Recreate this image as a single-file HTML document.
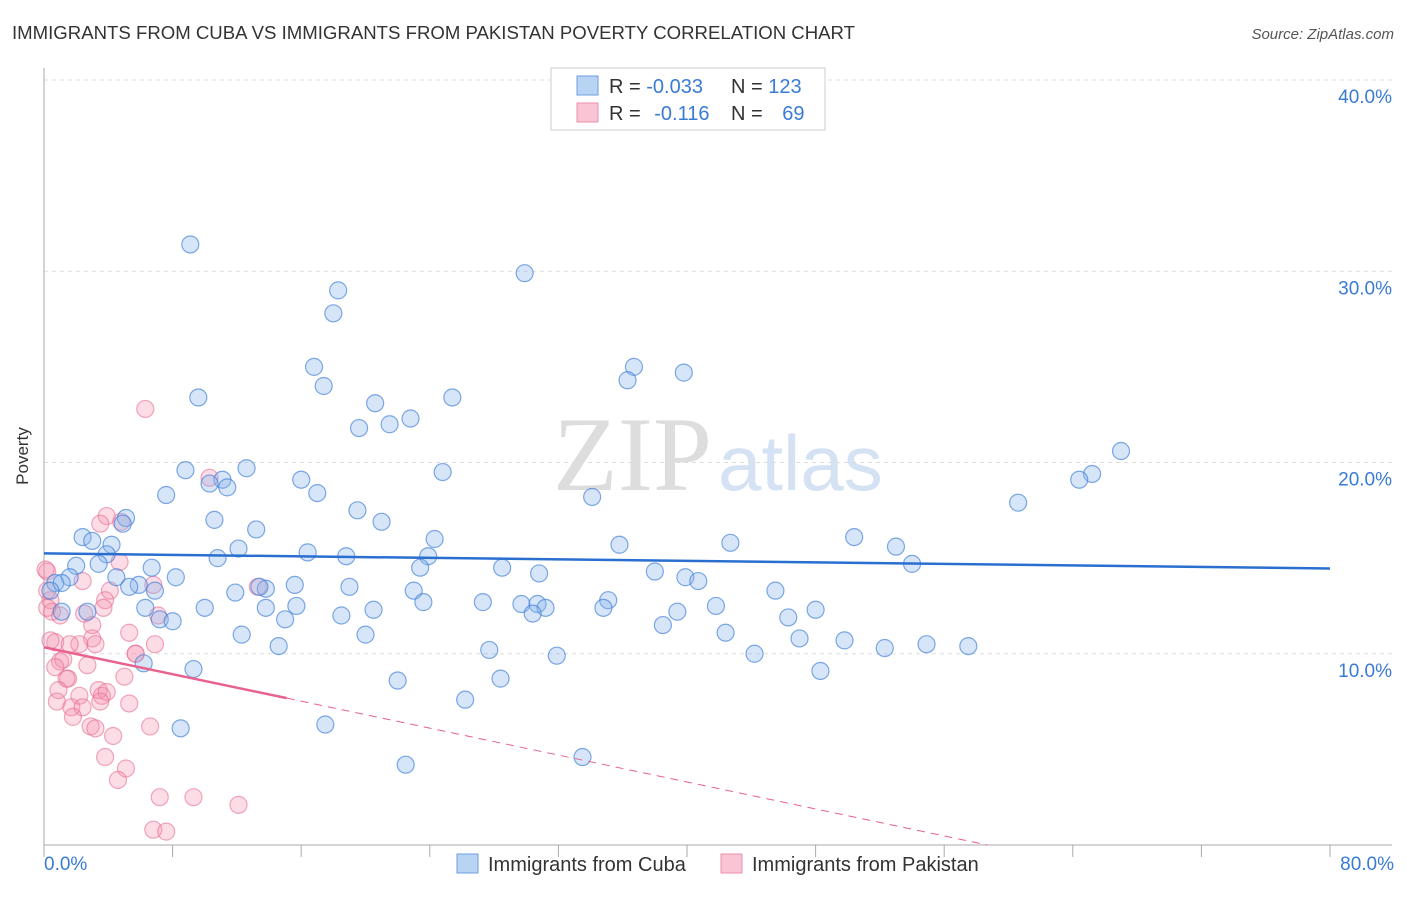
<!DOCTYPE html>
<html><head><meta charset="utf-8"><style>
body{margin:0;background:#fff;font-family:"Liberation Sans",sans-serif}
svg text{font-family:"Liberation Sans",sans-serif}
</style></head><body>
<svg id="c" width="1406" height="892">
<text x="12" y="39" font-size="18.6" fill="#333">IMMIGRANTS FROM CUBA VS IMMIGRANTS FROM PAKISTAN POVERTY CORRELATION CHART</text>
<text x="1394" y="39" font-size="15" fill="#555" text-anchor="end" font-style="italic">Source: ZipAtlas.com</text>
<text x="28" y="456" font-size="17" fill="#333" transform="rotate(-90 28 456)" text-anchor="middle">Poverty</text>
<text x="553" y="490" font-size="106" fill="#ddd" style="font-family:'Liberation Serif',serif">ZIP</text>
<text x="718" y="490" font-size="78" fill="#d4e2f4">atlas</text>
<g id="grid"></g><g id="pts"></g><g id="lines"></g>
<g>
<rect x="551" y="68" width="274" height="62" fill="#fff" stroke="#ccc"/>
<rect x="577" y="76" width="21" height="19" fill="#b9d3f3" stroke="#6d9de0"/>
<rect x="577" y="103" width="21" height="19" fill="#f9c4d3" stroke="#ec8fab"/>
<text x="609" y="93" font-size="20" fill="#333">R = <tspan fill="#3a7bd5">-0.033</tspan></text>
<text x="731" y="93" font-size="20" fill="#333">N = <tspan fill="#3a7bd5">123</tspan></text>
<text x="609" y="120" font-size="20" fill="#333">R = <tspan fill="#3a7bd5" dx="8">-0.116</tspan></text>
<text x="731" y="120" font-size="20" fill="#333">N = <tspan fill="#3a7bd5" dx="14">69</tspan></text>
</g>
<g>
<rect x="457" y="854" width="21" height="19" fill="#b9d3f3" stroke="#6d9de0"/>
<text x="488" y="871" font-size="20" fill="#333">Immigrants from Cuba</text>
<rect x="721" y="854" width="21" height="19" fill="#f9c4d3" stroke="#ec8fab"/>
<text x="752" y="871" font-size="20" fill="#333">Immigrants from Pakistan</text>
</g>
</svg>
<script>
const yTicks=[10,20,30,40];
const xTickLabels=["0.0%","80.0%"];
const cubaX=[9.1,29.9,18.3,18.0,16.8,17.4,36.7,36.3,39.8,9.6,25.4,20.6,22.8,21.5,19.6,67.0,65.2,64.4,8.8,12.6,24.8,11.1,10.3,11.4,16.0,17.0,7.6,34.1,60.6,19.5,10.6,21.0,13.2,5.1,4.9,2.4,3.0,4.2,50.4,24.3,42.7,35.8,53.0,12.1,3.9,16.4,18.8,23.9,10.8,3.4,54.0,23.4,28.5,6.7,2.0,38.0,30.8,1.6,4.5,8.2,39.9,40.7,0.7,1.1,5.9,5.3,15.6,19.0,13.8,13.4,45.5,0.4,6.9,11.9,23.0,35.1,23.6,27.3,41.8,29.7,30.7,31.2,15.7,10.0,13.8,20.5,6.3,34.8,48.0,39.4,1.1,2.7,30.4,18.5,7.2,8.0,15.0,46.3,38.5,42.4,12.3,20.0,47.0,49.8,54.9,57.5,52.3,14.6,27.7,44.2,31.9,6.2,9.3,48.3,28.4,22.0,26.2,17.5,8.5,33.5,22.5];
const cubaY=[31.4,29.9,29.0,27.8,25.0,24.0,25.0,24.3,24.7,23.4,23.4,23.1,22.3,22.0,21.8,20.6,19.4,19.1,19.6,19.7,19.5,19.1,18.9,18.7,19.1,18.4,18.3,18.2,17.9,17.5,17.0,16.9,16.5,17.1,16.8,16.1,15.9,15.7,16.1,16.0,15.8,15.7,15.6,15.5,15.2,15.3,15.1,15.1,15.0,14.7,14.7,14.5,14.5,14.5,14.6,14.3,14.2,14.0,14.0,14.0,14.0,13.8,13.7,13.7,13.6,13.5,13.6,13.5,13.4,13.5,13.3,13.3,13.3,13.2,13.3,12.8,12.7,12.7,12.5,12.6,12.6,12.4,12.5,12.4,12.4,12.3,12.4,12.4,12.3,12.2,12.2,12.2,12.1,12.0,11.8,11.7,11.8,11.9,11.5,11.1,11.0,11.0,10.8,10.7,10.5,10.4,10.3,10.4,10.2,10.0,9.9,9.5,9.2,9.1,8.7,8.6,7.6,6.3,6.1,4.6,4.2];
const pakX=[6.3,10.3,3.9,3.5,4.8,4.7,0.2,6.8,13.3,2.4,4.1,0.4,3.8,0.5,2.5,7.1,1.0,3.7,3.0,3.0,0.7,2.2,3.2,1.6,5.7,5.7,1.0,1.2,2.7,0.7,1.5,1.4,5.0,3.4,0.9,3.6,2.2,3.9,5.3,0.8,3.5,1.7,2.4,1.8,6.6,2.9,3.2,4.3,3.8,5.1,4.6,7.2,9.3,12.1,6.8,7.6,0.1,0.2,0.2,0.4,6.9,5.3];
const pakY=[22.8,19.2,17.2,16.8,16.9,14.8,14.3,13.6,13.5,13.8,13.3,12.8,12.8,12.2,12.1,12.0,12.0,12.4,11.5,10.8,10.6,10.5,10.5,10.5,10.0,10.0,9.6,9.7,9.4,9.3,8.7,8.7,8.8,8.1,8.1,7.8,7.8,8.0,7.4,7.5,7.5,7.2,7.2,6.7,6.2,6.2,6.1,5.7,4.6,4.0,3.4,2.5,2.5,2.1,0.8,0.7,14.4,13.3,12.4,10.7,10.5,11.1];
const cubaTrend=[15.25,14.46];
const pakTrend=[10.34,7.68];
const pakSolidEnd=15.1;
const NS="http://www.w3.org/2000/svg";
const X0=44,X1=1330,Y0=845,Y40=80;
const sx=v=>X0+(X1-X0)*v/80;
const sy=v=>Y0-(Y0-Y40)*v/40;
function mk(t,a,p){const e=document.createElementNS(NS,t);for(const k in a)e.setAttribute(k,a[k]);p.appendChild(e);return e;}
const grid=document.getElementById('grid');
yTicks.forEach(t=>{
 const l=mk('line',{x1:X0,x2:1392,y1:sy(t),y2:sy(t),stroke:'#ddd','stroke-dasharray':'4,4'},grid);
 
 
 const tx=mk('text',{x:1392,y:sy(t)+23,'font-size':19,fill:'#3a7bd5','text-anchor':'end'},grid);
 tx.textContent=t.toFixed(1)+'%';
 
 
});
const ax=mk('line',{x1:X0,x2:X0,y1:68,y2:Y0,stroke:'#aaa'},grid);


const bx=mk('line',{x1:X0,x2:1392,y1:Y0,y2:Y0,stroke:'#aaa'},grid);


for(let i=0;i<=10;i++){const tk=mk('line',{x1:sx(i*8),x2:sx(i*8),y1:Y0,y2:Y0+12,stroke:'#aaa'},grid);
 
 }
[[0,'start',X0],[80,'end',1394]].forEach((d,i)=>{const t=mk('text',{x:d[2],y:870,'font-size':19,fill:'#3a7bd5','text-anchor':d[1]},grid);t.textContent=xTickLabels[i];
 
 });
const pts=document.getElementById('pts');
pakX.forEach((x,i)=>{const c=mk('circle',{cx:sx(x),cy:sy(pakY[i]),r:8.5,fill:'rgba(244,143,172,0.3)',stroke:'rgba(232,110,146,0.6)','stroke-width':1.2},pts);
 
 });
cubaX.forEach((x,i)=>{const c=mk('circle',{cx:sx(x),cy:sy(cubaY[i]),r:8.5,fill:'rgba(138,180,235,0.35)',stroke:'rgba(60,125,215,0.65)','stroke-width':1.2},pts);
 
 });
const lines=document.getElementById('lines');
const bl=mk('line',{x1:sx(0),x2:sx(80),y1:sy(cubaTrend[0]),y2:sy(cubaTrend[1]),stroke:'#2a6fd0','stroke-width':2.5},lines);


const slope=(pakTrend[1]-pakTrend[0])/pakSolidEnd;
const pl=mk('line',{x1:sx(0),x2:sx(pakSolidEnd),y1:sy(pakTrend[0]),y2:sy(pakTrend[1]),stroke:'#e8628f','stroke-width':2.5},lines);


const xz=-pakTrend[0]/slope;
const pd=mk('line',{x1:sx(pakSolidEnd),x2:sx(xz),y1:sy(pakTrend[1]),y2:sy(0),stroke:'#e8628f','stroke-width':1,'stroke-dasharray':'8,6'},lines);


</script>
</body></html>
